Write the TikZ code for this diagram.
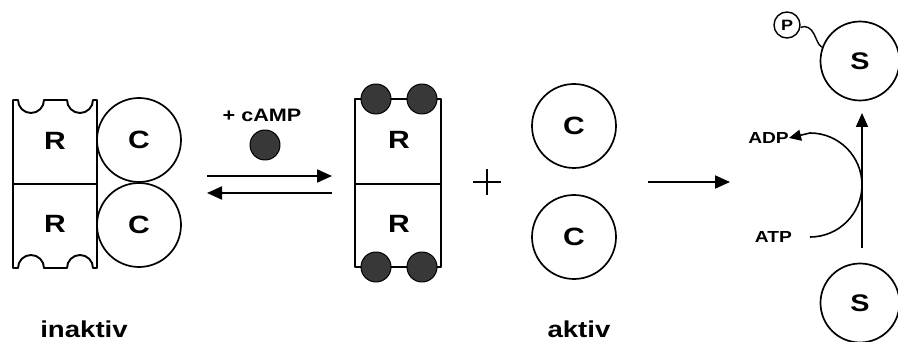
\documentclass[tikz,border=0pt]{standalone}
\usepackage{fontspec}
\setmainfont{Liberation Sans}[FakeStretch=1.2]
\usetikzlibrary{arrows.meta}
\begin{document}
\begin{tikzpicture}[x=1pt,y=-1pt,line join=round,
  ln/.style={line width=1.9pt},
  circ/.style={draw,circle,line width=1.7pt,inner sep=0pt,minimum size=84pt,font=\fontsize{25}{25}\selectfont\bfseries},
  scirc/.style={draw,circle,line width=1.7pt,inner sep=0pt,minimum size=79pt,font=\fontsize{24}{24}\selectfont\bfseries},
  rlab/.style={font=\fontsize{25}{25}\selectfont\bfseries,inner sep=0pt},
  ball/.style={draw,circle,fill=black!78,line width=1pt,minimum size=30pt,inner sep=0pt},
  rxn/.style={line width=2pt,-{Triangle[length=15pt,width=13pt]}},
  small/.style={font=\fontsize{16}{16}\selectfont\bfseries,inner sep=0pt},
  lbl/.style={font=\fontsize{23}{23}\selectfont\bfseries,inner sep=0pt},
]
\useasboundingbox (0,0) rectangle (898,342);

% inactive complex
\draw[ln] (13,100) -- (18,100) arc[start angle=180,end angle=360,radius=13pt]
  -- (67,100) arc[start angle=180,end angle=360,radius=13pt] -- (97,100)
  -- (97,268) -- (93,268) arc[start angle=0,end angle=180,radius=13pt]
  -- (44,268) arc[start angle=0,end angle=180,radius=13pt] -- (13,268) -- cycle;
\draw[ln] (13,184) -- (97,184);
\node[rlab] (r1) at (55,141) {R};
\node[rlab] (r2) at (55,224) {R};
\node[circ] (c1) at (139,140) {C};
\node[circ] (c2) at (139,225) {C};

% cAMP
\node[font=\fontsize{18}{18}\selectfont\bfseries,inner sep=0pt] (camplab) at (262,115) {+ cAMP};
\node[ball] (camp) at (265,145) {};
\coordinate (f1) at (207,176);
\coordinate (f2) at (332,176);
\coordinate (b1) at (332,193);
\coordinate (b2) at (207,193);
\draw[rxn] (f1) -- (f2);
\draw[rxn] (b1) -- (b2);

% R dimer with cAMP
\draw[ln] (355,99) rectangle (441,267);
\draw[ln] (355,184) -- (441,184);
\node[rlab] (r3) at (399,140) {R};
\node[rlab] (r4) at (399,224) {R};
\node[ball] (k1) at (376,99) {};
\node[ball] (k2) at (422,99) {};
\node[ball] (k3) at (376,267) {};
\node[ball] (k4) at (422,267) {};

% plus
\draw[line width=1.3pt] (473,182) -- (501,182) (487,169) -- (487,195);

% active C
\node[circ] (c3) at (574,126) {C};
\node[circ] (c4) at (574,237) {C};

\coordinate (a1) at (648,182);
\coordinate (a2) at (730,182);
\draw[rxn] (a1) -- (a2);

% substrate
\node[scirc] (s1) at (860,61) {S};
\node[scirc] (s2) at (860,303) {S};
\node[draw,circle,line width=1.4pt,minimum size=26pt,inner sep=0pt,font=\fontsize{15}{15}\selectfont\bfseries] (p) at (787,25) {P};
\draw[line width=1.4pt] (p.-10) .. controls (806,25) and (811,28) .. (814,34) .. controls (817,40) and (818,45) .. (s1.160);
\coordinate (v1) at (862,248);
\coordinate (v2) at (862,113);
\draw[line width=1.8pt,-{Triangle[length=14pt,width=12pt]}] (v1) -- (v2);
\node[small,anchor=east] (atp) at (792,237) {ATP};
\node[small,anchor=east] (adp) at (789,138) {ADP};
\coordinate (q1) at (810,237);
\draw[line width=1.6pt,-{Triangle[length=12pt,width=11pt]}] (q1) arc[start angle=-90,end angle=90,radius=52pt] -- (adp.east);

% labels
\node[lbl] (inak) at (84,329) {inaktiv};
\node[lbl] (ak) at (579,329) {aktiv};
\end{tikzpicture}
\end{document}
